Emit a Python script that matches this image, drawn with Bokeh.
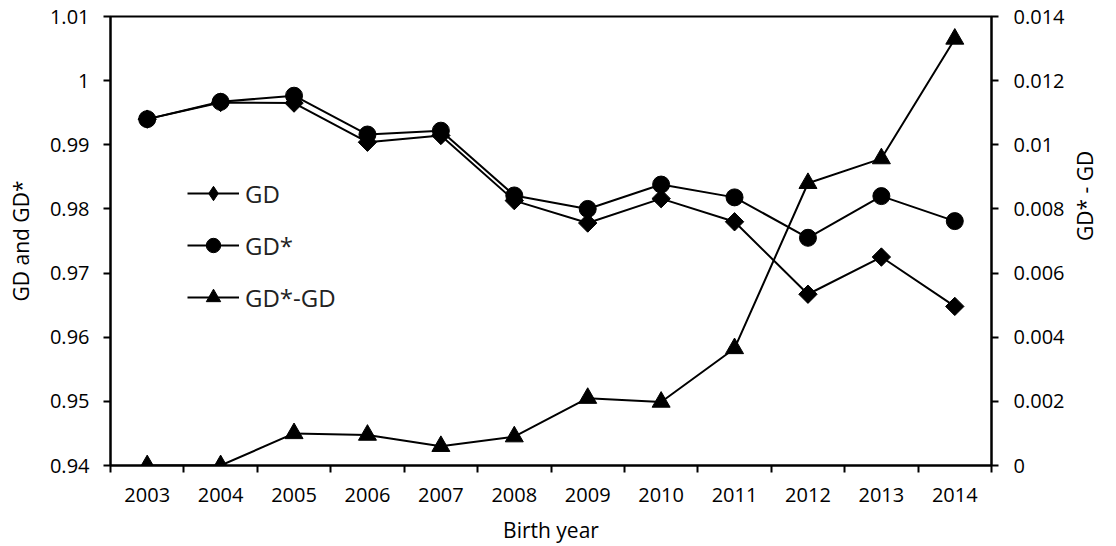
from bokeh.plotting import figure
from bokeh.models import (Range1d, LinearAxis, FixedTicker, Legend, LegendItem)
from bokeh.embed import file_html
from bokeh.resources import INLINE
import math

years = ["2003", "2004", "2005", "2006", "2007", "2008", "2009", "2010", "2011", "2012", "2013", "2014"]
gd = [0.9940, 0.9966, 0.9965, 0.9904, 0.99145, 0.9813, 0.9778, 0.9816, 0.9780, 0.9667, 0.9725, 0.9648]
gd_star = [0.9940, 0.9967, 0.99765, 0.9916, 0.9922, 0.9821, 0.9800, 0.9838, 0.9818, 0.9755, 0.9820, 0.9781]
diff = [0.0, 0.0, 0.0010, 0.00095, 0.0006, 0.0009, 0.0021, 0.00198, 0.00365, 0.0088, 0.00957, 0.0133]

left_ticks = [0.94, 0.95, 0.96, 0.97, 0.98, 0.99, 1.0, 1.01]
left_labels = ["0.94", "0.95", "0.96", "0.97", "0.98", "0.99", "1", "1.01"]
right_ticks = [0.0, 0.002, 0.004, 0.006, 0.008, 0.01, 0.012, 0.014]
right_labels = ["0", "0.002", "0.004", "0.006", "0.008", "0.01", "0.012", "0.014"]

FONT = "Open Sans"
xs = [i + 0.5 for i in range(len(years))]

p = figure(width=1116, height=546, output_backend="svg", toolbar_location=None,
           x_range=Range1d(0, len(years)), y_range=Range1d(0.94, 1.01),
           min_border_left=110, min_border_right=122, min_border_top=16, min_border_bottom=81)
p.extra_y_ranges = {"diff": Range1d(0, 0.014)}
p.xgrid.visible = False
p.ygrid.visible = False
p.outline_line_color = "black"
p.outline_line_width = 2
p.background_fill_color = "white"
p.border_fill_color = "white"

def style_axis(ax):
    ax.axis_line_color = "black"
    ax.axis_line_width = 2
    ax.major_tick_line_color = "black"
    ax.major_tick_line_width = 2
    ax.major_tick_in = 0
    ax.major_tick_out = 7
    ax.minor_tick_line_color = None
    ax.major_label_text_font = FONT
    ax.major_label_text_font_size = "20px"
    ax.major_label_text_color = "black"
    ax.axis_label_text_font = FONT
    ax.axis_label_text_font_size = "21px"
    ax.axis_label_text_font_style = "normal"
    ax.axis_label_text_color = "black"

# x axis
xa = p.xaxis[0]
style_axis(xa)
xa.ticker = FixedTicker(ticks=xs, minor_ticks=list(range(len(years) + 1)))
xa.major_label_overrides = {x: y for x, y in zip(xs, years)}
xa.major_tick_line_color = None
xa.minor_tick_line_color = "black"
xa.minor_tick_line_width = 2
xa.minor_tick_in = 0
xa.minor_tick_out = 7
xa.major_label_standoff = 15
xa.axis_label = "Birth year"
xa.axis_label_standoff = 11

# left y axis
ya = p.yaxis[0]
style_axis(ya)
ya.ticker = FixedTicker(ticks=left_ticks)
ya.major_label_overrides = {t: l for t, l in zip(left_ticks, left_labels)}
ya.major_label_standoff = 14
ya.axis_label = "GD and GD*"
ya.axis_label_standoff = 12

# right y axis
ra = LinearAxis(y_range_name="diff")
style_axis(ra)
ra.ticker = FixedTicker(ticks=right_ticks)
ra.major_label_overrides = {t: l for t, l in zip(right_ticks, right_labels)}
ra.major_label_standoff = 15
ra.axis_label = "GD* - GD"
ra.axis_label_standoff = 18
if "axis_label_orientation" in ra.properties():
    ra.axis_label_orientation = math.pi / 2
p.add_layout(ra, "right")

l1 = p.line(xs, gd, line_color="black", line_width=2)
# diamond hidden beneath the rotated squares: used for the legend symbol
m1_leg = p.scatter(xs, gd, marker="diamond", size=17, fill_color="black", line_color="black",
                   line_width=1)
m1 = p.scatter(xs, gd, marker="square", size=13, angle=math.pi / 4,
               fill_color="black", line_color="black")
l2 = p.line(xs, gd_star, line_color="black", line_width=2)
m2 = p.scatter(xs, gd_star, marker="circle", size=17, fill_color="black", line_color="black")
l3 = p.line(xs, diff, line_color="black", line_width=2, y_range_name="diff")
m3 = p.scatter(xs, diff, marker="triangle", size=18, fill_color="black", line_color="black",
               y_range_name="diff")

legend = Legend(items=[
    LegendItem(label="GD", renderers=[l1, m1_leg]),
    LegendItem(label="GD*", renderers=[l2, m2]),
    LegendItem(label="GD*-GD", renderers=[l3, m3]),
], location=(77, 150))
legend.glyph_width = 52
legend.glyph_height = 36
legend.label_height = 36
legend.spacing = 16
legend.padding = 0
legend.margin = 0
legend.label_standoff = 6
legend.border_line_color = None
legend.background_fill_alpha = 0
legend.label_text_font = FONT
legend.label_text_font_size = "24px"
legend.label_text_color = "#222222"
p.add_layout(legend, "center")

open("out.html", "w").write(file_html(p, INLINE))
